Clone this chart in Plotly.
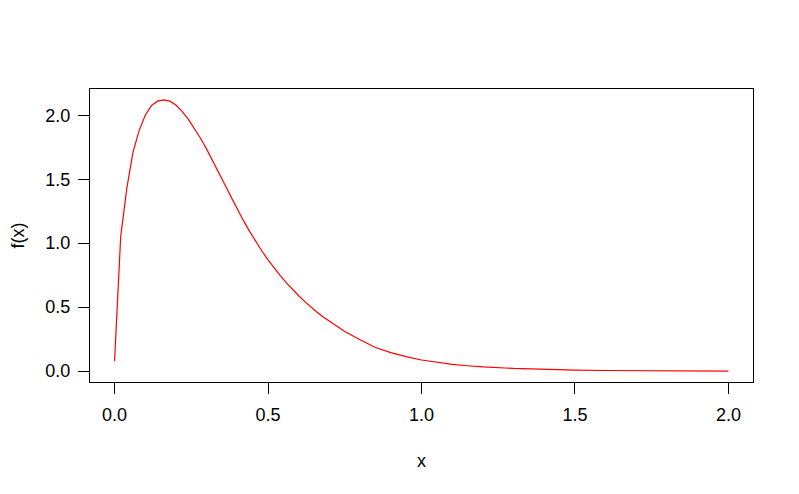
import plotly.graph_objects as go

# Density curve values
x_vals = [0.00, 0.02, 0.04, 0.06, 0.08, 0.10, 0.12, 0.14, 0.16, 0.18, 0.20,
          0.22, 0.24, 0.26, 0.28, 0.30, 0.32, 0.34, 0.36, 0.38, 0.40,
          0.42, 0.44, 0.46, 0.48, 0.50, 0.52, 0.54, 0.56, 0.58, 0.60,
          0.62, 0.64, 0.66, 0.68, 0.70, 0.75, 0.80, 0.85, 0.90, 0.95,
          1.00, 1.05, 1.10, 1.15, 1.20, 1.30, 1.40, 1.50, 1.60, 1.70,
          1.80, 1.90, 2.00]
f_vals = [0.078, 1.05, 1.43, 1.71, 1.88, 2.00, 2.075, 2.11, 2.12, 2.11, 2.08,
          2.03, 1.97, 1.90, 1.82, 1.735, 1.645, 1.55, 1.455, 1.36, 1.265,
          1.176, 1.092, 1.013, 0.939, 0.870, 0.806, 0.746, 0.690, 0.638, 0.589,
          0.543, 0.500, 0.460, 0.423, 0.389, 0.31, 0.245, 0.185, 0.145, 0.113,
          0.087, 0.068, 0.053, 0.042, 0.033, 0.021, 0.013, 0.008, 0.005, 0.003,
          0.002, 0.0012, 0.0007]

x_ticks = [0.0, 0.5, 1.0, 1.5, 2.0]
y_ticks = [0.0, 0.5, 1.0, 1.5, 2.0]
x_ticktext = ["0.0", "0.5", "1.0", "1.5", "2.0"]
y_ticktext = ["0.0", "0.5", "1.0", "1.5", "2.0"]

fig = go.Figure()
fig.add_trace(go.Scatter(x=x_vals, y=f_vals, mode="lines",
                         line=dict(color="red", width=1.2), showlegend=False,
                         hoverinfo="skip"))

font = dict(family="Liberation Sans, Arial, sans-serif", size=18, color="black")

fig.update_layout(
    width=799, height=494,
    margin=dict(l=82, r=54, t=81, b=120),
    paper_bgcolor="white", plot_bgcolor="white",
    font=font,
    xaxis=dict(range=[-0.08, 2.08], showgrid=False, zeroline=False,
               automargin=False,
               showline=True, mirror=True, linecolor="black", linewidth=1,
               ticks="outside", ticklen=11, tickcolor="black", tickwidth=1,
               tickvals=x_ticks, ticktext=x_ticktext, ticklabelstandoff=5,
               title=dict(text="x", standoff=30, font=font)),
    yaxis=dict(range=[-0.085, 2.205], showgrid=False, zeroline=False,
               automargin=False,
               showline=True, mirror=True, linecolor="black", linewidth=1,
               ticks="outside", ticklen=11, tickcolor="black", tickwidth=1,
               tickvals=y_ticks, ticktext=y_ticktext, ticklabelstandoff=4,
               title=dict(text="f(x)", standoff=21, font=font)),
)

fig.write_html("out.html")
